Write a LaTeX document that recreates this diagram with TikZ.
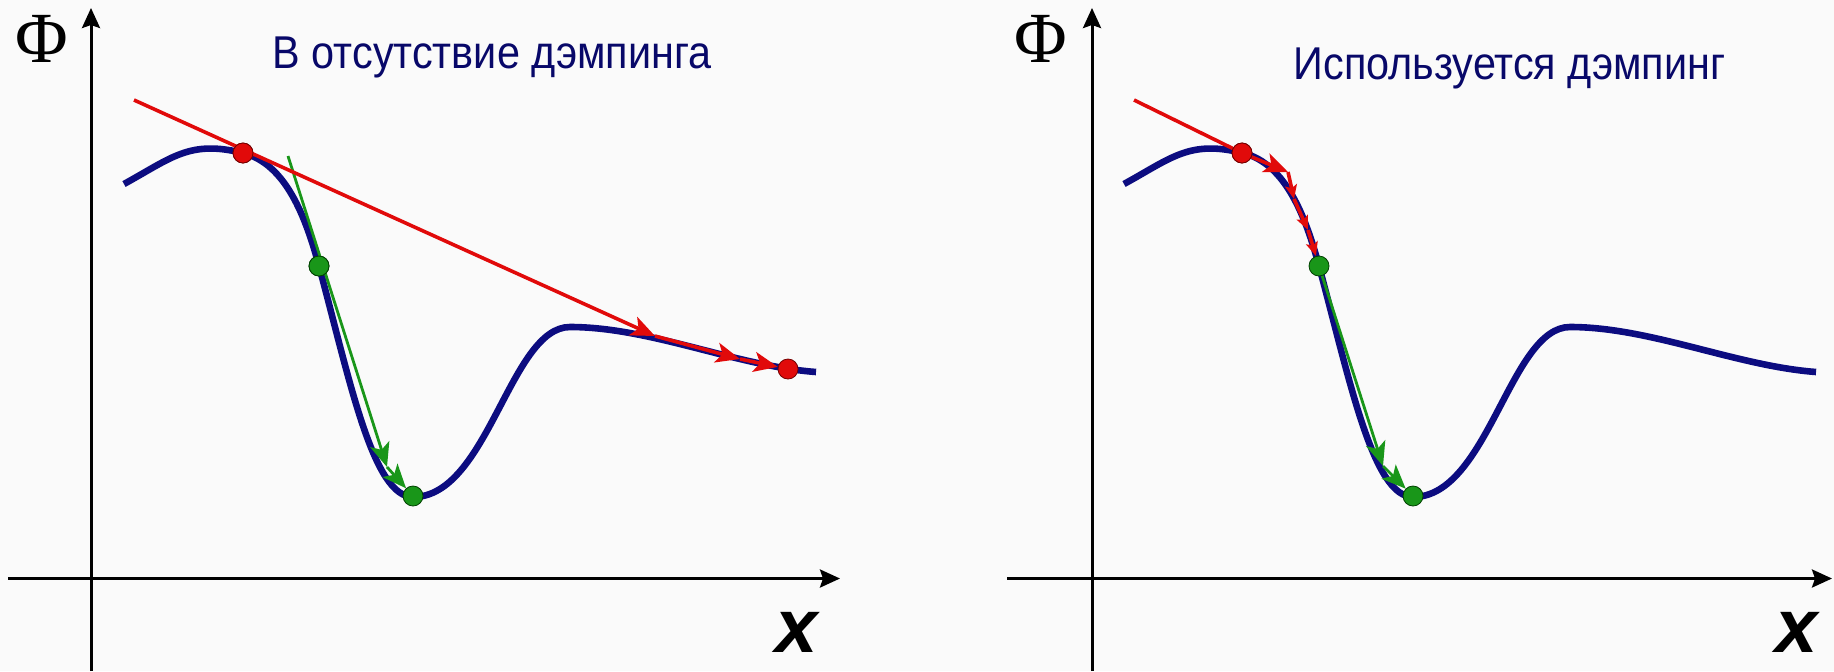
\documentclass[tikz,border=0pt]{standalone}
\usepackage{fontspec}
\setmainfont{Liberation Sans}
\newfontfamily\phifont{Liberation Serif}
\newfontfamily\titlefont[FakeStretch=0.9]{Liberation Sans}
\usetikzlibrary{arrows.meta}
\definecolor{navy}{RGB}{12,12,128}
\definecolor{titlecol}{RGB}{8,8,105}
\definecolor{myred}{RGB}{225,10,10}
\definecolor{mygreen}{RGB}{25,150,25}
\definecolor{bgcol}{RGB}{250,250,250}
\newcommand\drawcurve{%
  \draw[curve] (124,184) .. controls (172.2,157.5) and (189.7,139.8) .. (243,153)
    .. controls (285.6,163.5) and (305.7,216.8) .. (319,266)
    .. controls (350.2,381.8) and (373,497) .. (413,497)
    .. controls (488,497) and (510,327) .. (570,327)
    .. controls (650,327) and (736,366) .. (816,372);}
\tikzset{
  axis/.style={black, line width=1.5pt, -{Stealth[length=10pt,width=9pt,inset=1.5pt]}},
  curve/.style={navy, line width=3.3pt},
  redline/.style={myred, line width=1.8pt},
  greenline/.style={mygreen, line width=1.4pt},
  bighead/.style={-{Stealth[length=12pt,width=10pt,inset=3pt]}},
  smallhead/.style={-{Stealth[length=7pt,width=6pt,inset=1.5pt]}},
  reddot/.style={circle, fill=myred, draw=red!45!black, line width=0.4pt, inner sep=0pt, minimum size=10pt},
  greendot/.style={circle, fill=mygreen, draw=green!25!black, line width=0.4pt, inner sep=0pt, minimum size=10pt},
  title/.style={text=titlecol, font=\titlefont\fontsize{23}{27}\selectfont, anchor=base},
  philabel/.style={font=\phifont\fontsize{36}{40}\selectfont},
  xlabel/.style={font=\bfseries\itshape\fontsize{38}{42}\selectfont}
}
\begin{document}
\begin{tikzpicture}[x=0.5pt,y=-0.5pt]
\fill[bgcol] (0,0) rectangle (1834,671);
\useasboundingbox (0,0) rectangle (1834,671);

% ---------- left panel ----------
\coordinate (L-ytop) at (91,8);
\coordinate (L-ybot) at (91,671);
\coordinate (L-xl) at (8,578.5);
\coordinate (L-xr) at (840,578.5);
\draw[axis] (L-ybot) -- (L-ytop);
\draw[axis] (L-xl) -- (L-xr);
\node[philabel] (L-phi) at (42,38.5) {Φ};
\node[xlabel] (L-x) at (797,632) {x};
\node[title] (L-title) at (492,68.5) {В отсутствие дэмпинга};
\drawcurve
\coordinate (L-rs) at (134,100);
\coordinate (L-ra) at (655,336);
\coordinate (L-rb) at (740,359);
\coordinate (L-gs) at (288,156);
\coordinate (L-ga) at (387,467);
\node[reddot] (L-r1) at (243,153) {};
\node[greendot] (L-g1) at (319,266) {};
\node[reddot] (L-r2) at (788,369) {};
\node[greendot] (L-g2) at (413,496) {};
\draw[greenline, bighead] (L-gs) -- (L-ga);
\draw[greenline, bighead] (L-ga) -- (L-g2);
\draw[redline, bighead] (L-rs) -- (L-ra);
\draw[redline, bighead] (L-ra) -- (L-rb);
\draw[redline, bighead] (L-rb) -- (L-r2);
\node[reddot] at (L-r1) {};
\node[greendot] at (L-g1) {};

% ---------- right panel ----------
\coordinate (R-ytop) at (1092,8);
\coordinate (R-ybot) at (1092,671);
\coordinate (R-xl) at (1007,578.5);
\coordinate (R-xr) at (1832,578.5);
\draw[axis] (R-ybot) -- (R-ytop);
\draw[axis] (R-xl) -- (R-xr);
\node[philabel] (R-phi) at (1041,38.5) {Φ};
\node[xlabel] (R-x) at (1797,632) {x};
\node[title] (R-title) at (1509.5,79) {Используется дэмпинг};
\begin{scope}[xshift=500pt]
\drawcurve
\end{scope}
\coordinate (R-rs) at (1134,100);
\coordinate (R-ra) at (1288,172);
\coordinate (R-rb) at (1294,199);
\coordinate (R-rc) at (1308,230);
\coordinate (R-ga) at (1383,466);
\node[reddot] (R-r1) at (1242,153) {};
\node[greendot] (R-g1) at (1319,266) {};
\node[greendot] (R-g2) at (1413,496) {};
\draw[redline] (R-rs) -- (R-r1);
\draw[redline, bighead] (R-r1) -- (R-ra);
\draw[redline, smallhead] (R-ra) -- (R-rb);
\draw[redline, smallhead] (R-rb) -- (R-rc);
\draw[redline, smallhead] (R-rc) -- (R-g1);
\draw[greenline, bighead] (R-g1) -- (R-ga);
\draw[greenline, bighead] (R-ga) -- (R-g2);
\node[reddot] at (R-r1) {};
\end{tikzpicture}
\end{document}
